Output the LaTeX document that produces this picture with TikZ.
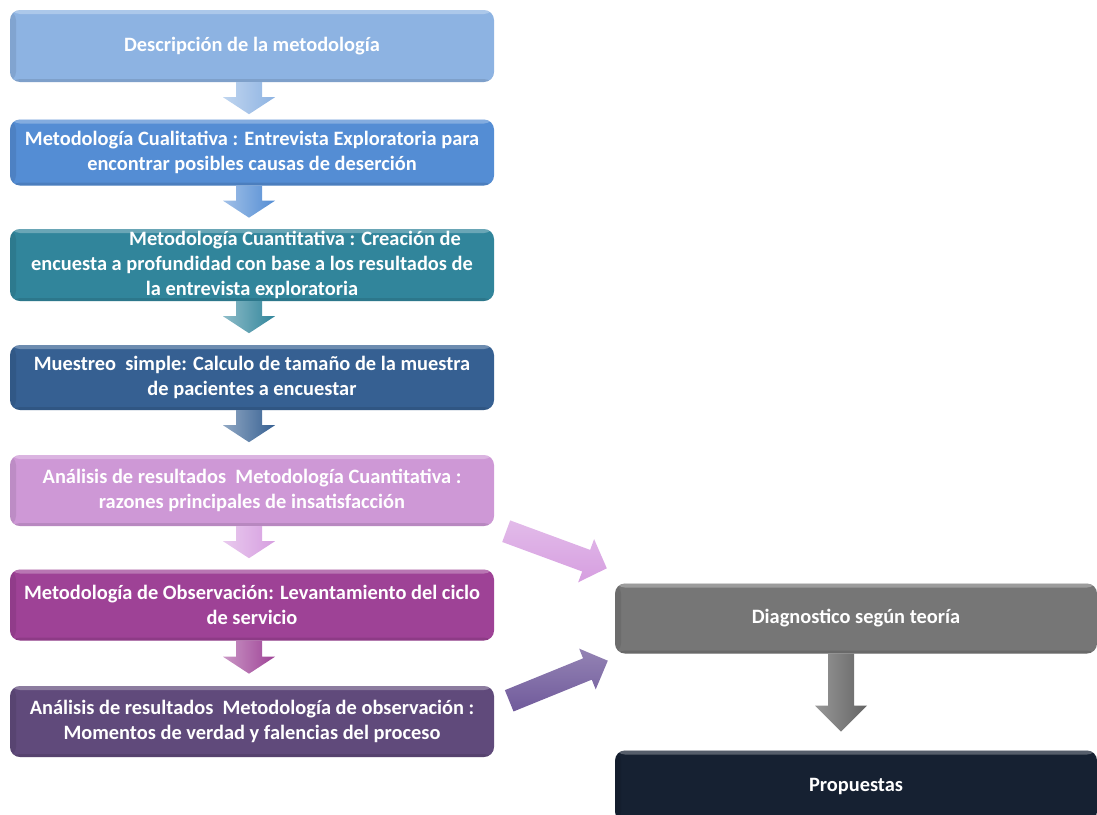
\documentclass[tikz,border=0pt]{standalone}
\usepackage{fontspec}
\setmainfont{Carlito}
\usetikzlibrary{calc}
\definecolor{cA}{RGB}{141,179,226}
\definecolor{cB}{RGB}{84,141,212}
\definecolor{cC}{RGB}{49,133,155}
\definecolor{cD}{RGB}{54,96,146}
\definecolor{cE}{RGB}{206,152,214}
\definecolor{cF}{RGB}{158,66,150}
\definecolor{cG}{RGB}{96,74,123}
\definecolor{cH}{RGB}{118,118,118}
\definecolor{cI}{RGB}{22,33,50}
\definecolor{aP}{RGB}{214,158,224}
\definecolor{aV}{RGB}{112,90,155}
% #1 tail coordinate, #2 tip coordinate, #3 shaft half width, #4 head half width, #5 head length, #6 fill options
\newcommand{\blockarr}[6]{%
  \coordinate (ba-h) at ($(#2)!#5!(#1)$);
  \path[#6] ($(#1)!#3!90:(#2)$) -- ($(ba-h)!#3!90:(#2)$) -- ($(ba-h)!#4!90:(#2)$)
    -- (#2) -- ($(ba-h)!#4!-90:(#2)$) -- ($(ba-h)!#3!-90:(#2)$) -- ($(#1)!#3!-90:(#2)$) -- cycle;
}
\tikzset{
  bevel/.style={path picture={
    \fill[white,opacity=.28] (path picture bounding box.north west) rectangle ([yshift=-4pt]path picture bounding box.north east);
    \fill[black,opacity=.08] (path picture bounding box.north west) rectangle ([xshift=6pt]path picture bounding box.south west);
    \fill[black,opacity=.10] (path picture bounding box.south west) rectangle ([yshift=3pt]path picture bounding box.south east);
  }},
  box/.style={rounded corners=10pt, fill=#1, bevel, text=white,
    font=\bfseries\fontsize{20.4}{25}\selectfont, align=center, inner sep=0pt,
    minimum width=484pt},
  rbox/.style={box=#1, minimum width=482pt},
  smallarr/.style={left color=#1!55!white, right color=#1},
}
\begin{document}
\begin{tikzpicture}[x=1pt,y=-1pt]
\useasboundingbox (0,0) rectangle (1097,814);
\clip (0,0) rectangle (1097,814);

% left column boxes
\node[box=cA, minimum height=72pt] (b1) at (252,46) {Descripción de la metodología};
\node[box=cB, minimum height=66pt] (b2) at (252,152.5) {Metodología Cualitativa : Entrevista Exploratoria para\\encontrar posibles causas de deserción};
\node[box=cC, minimum height=72pt] (b3) at (252,265) {\hspace*{86pt}Metodología Cuantitativa : Creación de\\encuesta a profundidad con base a los resultados de\\la entrevista exploratoria};
\node[box=cD, minimum height=65pt] (b4) at (252,377.5) {Muestreo\ \ simple: Calculo de tamaño de la muestra\\de pacientes a encuestar};
\node[box=cE, minimum height=71pt] (b5) at (252,490.5) {Análisis de resultados\ \ Metodología Cuantitativa :\\razones principales de insatisfacción};
\node[box=cF, minimum height=71pt] (b6) at (252,605) {Metodología de Observación: Levantamiento del ciclo\\de servicio};
\node[box=cG, minimum height=71pt] (b7) at (252,721.5) {Análisis de resultados\ \ Metodología de observación :\\Momentos de verdad y falencias del proceso};

% right column
\node[rbox=cH, minimum height=70pt] (diag) at (856,618.5) {Diagnostico según teoría};
\node[rbox=cI, minimum height=71pt] (prop) at (856,786) {Propuestas};

% down arrows between left boxes
\coordinate (t1) at ($(b1.south)+(-3,0)$); \coordinate (p1) at ($(t1)!32pt!(t1 |- b2.north)$);
\coordinate (t2) at ($(b2.south)+(-3,0)$); \coordinate (p2) at ($(t2)!32pt!(t2 |- b3.north)$);
\coordinate (t3) at ($(b3.south)+(-3,0)$); \coordinate (p3) at ($(t3)!32pt!(t3 |- b4.north)$);
\coordinate (t4) at ($(b4.south)+(-3,0)$); \coordinate (p4) at ($(t4)!32pt!(t4 |- b5.north)$);
\coordinate (t5) at ($(b5.south)+(-3,0)$); \coordinate (p5) at ($(t5)!32pt!(t5 |- b6.north)$);
\coordinate (t6) at ($(b6.south)+(-3,0)$); \coordinate (p6) at ($(t6)!33pt!(t6 |- b7.north)$);
\blockarr{t1}{p1}{13pt}{26pt}{17pt}{smallarr=cA}
\blockarr{t2}{p2}{13pt}{26pt}{17pt}{smallarr=cB}
\blockarr{t3}{p3}{13pt}{26pt}{17pt}{smallarr=cC}
\blockarr{t4}{p4}{13pt}{26pt}{17pt}{smallarr=cD}
\blockarr{t5}{p5}{13pt}{26pt}{17pt}{smallarr=aP}
\blockarr{t6}{p6}{13pt}{26pt}{17pt}{smallarr=cF}

% diagonal arrows to the diagnosis box
\coordinate (tq) at ($(b5.south east)+(12,5)$);
\coordinate (pq) at ($(diag.north west)+(-8,-15)$);
\blockarr{tq}{pq}{11.5pt}{23pt}{22pt}{top color=aP!70!white, bottom color=aP}
\coordinate (tr) at ($(b7.north east)+(15,15)$);
\coordinate (pr) at ($(diag.south west)+(-7,7)$);
\blockarr{tr}{pr}{11.5pt}{22pt}{22pt}{top color=aV!75!white, bottom color=aV}

% gray arrow
\coordinate (tg) at ($(diag.south)+(-15,0)$);
\coordinate (pg) at ($(tg)!78pt!(tg |- prop.north)$);
\blockarr{tg}{pg}{13pt}{26pt}{26pt}{left color=cH!75!white, right color=cH!85!black}
\end{tikzpicture}
\end{document}
